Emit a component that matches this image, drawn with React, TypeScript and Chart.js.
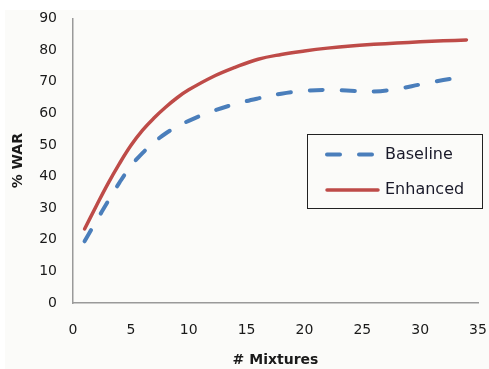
import React, { useEffect, useRef } from "react";
import { Chart, registerables } from "chart.js";

Chart.register(...registerables);

const xValues = [1, 2, 3, 4, 5, 6, 7, 8, 9, 10, 12, 14, 16, 18, 20, 22, 24, 26, 28, 30, 32, 34];
const baselineValues = [19.5, 25.8, 32, 38, 43.3, 47.4, 50.8, 53.6, 55.8, 57.6, 60.6, 62.9, 64.7, 66.2, 67.1, 67.4, 67.1, 66.9, 67.7, 69.1, 70.5, 71.7];
const enhancedValues = [23.4, 30.6, 37.6, 44, 49.8, 54.6, 58.5, 61.9, 64.9, 67.4, 71.4, 74.5, 77.1, 78.6, 79.7, 80.6, 81.3, 81.8, 82.2, 82.6, 82.9, 83.2];
const seriesLabels = ["Baseline", "Enhanced"];
const xTitle = "# Mixtures";
const yTitle = "% WAR";

const FONT = "'DejaVu Sans', Verdana, sans-serif";

const bgPlugin = {
  id: "bgPlugin",
  beforeDraw(chart: any) {
    const { ctx, width, height } = chart;
    ctx.save();
    ctx.fillStyle = "#ffffff";
    ctx.fillRect(0, 0, width, height);
    ctx.fillStyle = "#fbfbf9";
    ctx.fillRect(5, 10, width - 5, height - 10);
    ctx.restore();
  },
};

const boxLegend = {
  id: "boxLegend",
  afterDraw(chart: any) {
    const { ctx } = chart;
    const x0 = 307.5, y0 = 134.5, w = 175, h = 74;
    ctx.save();
    ctx.strokeStyle = "#222";
    ctx.lineWidth = 1;
    ctx.strokeRect(x0, y0, w, h);
    const rows = [154.5, 190];
    chart.data.datasets.forEach((ds: any, i: number) => {
      const y = rows[i];
      ctx.beginPath();
      ctx.strokeStyle = ds.borderColor;
      ctx.lineWidth = ds.borderWidth;
      ctx.lineCap = "round";
      ctx.setLineDash(ds.borderDash || []);
      ctx.moveTo(327, y);
      ctx.lineTo(378, y);
      ctx.stroke();
      ctx.setLineDash([]);
      ctx.fillStyle = "#1a1a2a";
      ctx.font = `16px ${FONT}`;
      ctx.textBaseline = "middle";
      ctx.textAlign = "left";
      ctx.fillText(ds.label, 385, y);
    });
    ctx.restore();
  },
};

export default function App() {
  const ref = useRef<HTMLCanvasElement | null>(null);
  useEffect(() => {
    if (!ref.current) return;
    const chart = new Chart(ref.current, {
      type: "line",
      data: {
        datasets: [
          {
            label: seriesLabels[0],
            data: xValues.map((x, i) => ({ x, y: baselineValues[i] })),
            borderColor: "#4a7ebb",
            borderWidth: 4,
            borderDash: [13, 19],
            borderCapStyle: "round",
            pointRadius: 0,
            tension: 0.4,
            fill: false,
          },
          {
            label: seriesLabels[1],
            data: xValues.map((x, i) => ({ x, y: enhancedValues[i] })),
            borderColor: "#be4b48",
            borderWidth: 3.5,
            borderCapStyle: "round",
            pointRadius: 0,
            tension: 0.4,
            fill: false,
          },
        ],
      },
      options: {
        animation: false,
        responsive: false,
        layout: { padding: { top: 16, right: 11, bottom: 0, left: 0 } },
        plugins: { legend: { display: false }, tooltip: { enabled: false } },
        scales: {
          x: {
            type: "linear",
            min: 0,
            max: 35,
            ticks: { stepSize: 5, color: "#1a1a1a", font: { family: FONT, size: 14 }, padding: 13 },
            grid: { display: false, drawTicks: true, tickLength: 6, tickColor: "#9a9a9a" },
            border: { color: "#9a9a9a", width: 1.5 },
            title: { display: true, text: xTitle, color: "#1a1a1a", font: { family: FONT, size: 14, weight: "bold" }, padding: { top: 0, bottom: 0 } },
            afterFit: (s: any) => { s.height = 66; s.paddingRight = 9; s.paddingLeft = 0; },
          },
          y: {
            min: 0,
            max: 90,
            ticks: { stepSize: 10, color: "#1a1a1a", font: { family: FONT, size: 14 }, padding: 10 },
            grid: { display: false, drawTicks: true, tickLength: 6, tickColor: "#9a9a9a" },
            border: { color: "#9a9a9a", width: 1.5 },
            title: { display: true, text: yTitle, color: "#1a1a1a", font: { family: FONT, size: 14, weight: "bold" }, padding: { top: 10, bottom: 0 } },
            afterFit: (s: any) => { s.width = 73; },
          },
        },
      },
      plugins: [bgPlugin, boxLegend],
    } as any);
    return () => chart.destroy();
  }, []);
  return (
    <div style={{ position: "fixed", left: 0, top: 0, width: 489, height: 369 }}>
      <canvas ref={ref} width={489} height={369} style={{ display: "block" }} />
    </div>
  );
}
